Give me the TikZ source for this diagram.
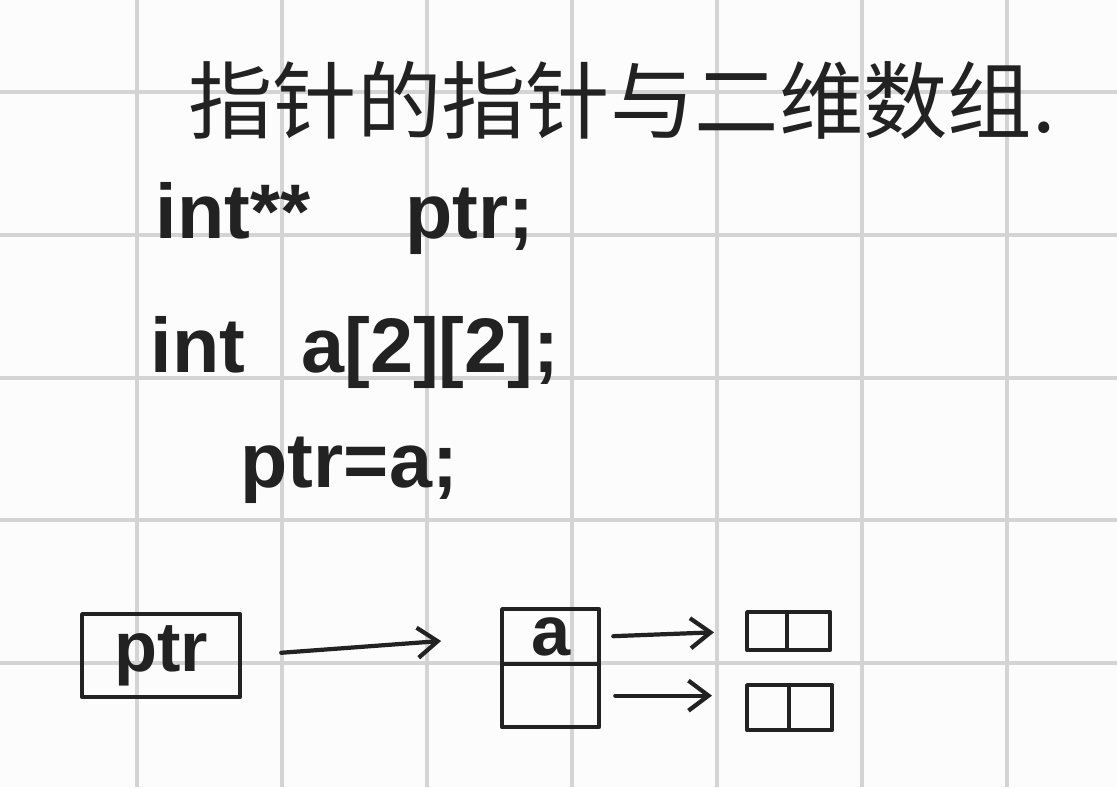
\documentclass[tikz,border=0pt]{standalone}
\usepackage{fontspec}
\setmainfont{Liberation Sans}
\newfontfamily\cjk{Noto Sans CJK SC}
\usetikzlibrary{arrows.meta}
\definecolor{ink}{HTML}{222222}
\definecolor{gridc}{HTML}{D4D4D4}
\definecolor{paper}{HTML}{FCFCFC}
\begin{document}
\begin{tikzpicture}[x=0.01cm,y=-0.01cm,
  inkline/.style={draw=ink, line width=1.2pt, line cap=round, line join=round},
  cell/.style={inkline, rectangle, inner sep=0pt, anchor=north west},
  code/.style={anchor=base west, inner sep=0pt, text=ink, font=\fontsize{22}{26}\selectfont\bfseries},
  gridline/.style={draw=gridc, line width=1pt},
  link/.style={inkline, -{Straight Barb[length=0.2cm,width=0.3cm,line width=1.2pt]}},
]
% paper and grid
\fill[paper] (0,0) rectangle (1117,787);
\useasboundingbox (0,0) rectangle (1117,787);
\foreach \gx in {137,282,427,572,717,862,1007}
  \draw[gridline] (\gx,0) -- (\gx,787);
\foreach \gy in {92,235,378,520,663}
  \draw[gridline] (0,\gy) -- (1117,\gy);

% title
\node[text=ink, inner sep=0pt, font=\cjk\fontsize{24}{28}\selectfont] (title) at (622,100) {指针的指针与二维数组.};

% code lines
\node[code] (line1) at (155,238) {int**\hspace{0.95cm}ptr;};
\node[code] (line2) at (150,372) {int\hspace{0.56cm}a[2][2];};
\node[code] (line3) at (240,487) {ptr=a;};

% diagram
\node[cell, minimum width=1.58cm, minimum height=0.83cm, text=ink, font=\fontsize{20}{24}\selectfont\bfseries] (ptrbox) at (80,612) {ptr};
\node[cell, minimum width=0.97cm, minimum height=0.55cm, text=ink, font=\fontsize{20}{24}\selectfont\bfseries] (arrTop) at (500,607) {a};
\node[cell, minimum width=0.97cm, minimum height=0.63cm] (arrBot) at (500,662) {};
\node[cell, minimum width=0.40cm, minimum height=0.38cm] (rowTopL) at (745,610) {};
\node[cell, minimum width=0.43cm, minimum height=0.38cm] (rowTopR) at (785,610) {};
\node[cell, minimum width=0.42cm, minimum height=0.45cm] (rowBotL) at (745,683) {};
\node[cell, minimum width=0.43cm, minimum height=0.45cm] (rowBotR) at (787,683) {};

\draw[link, shorten <=0.39cm, shorten >=0.59cm] (ptrbox.east) -- (arrTop.west);
\draw[link, shorten <=0.12cm, shorten >=0.31cm] (arrTop.east) -- (rowTopL.west);
\draw[link, shorten <=0.14cm, shorten >=0.33cm] (arrBot.east) -- (arrBot.east -| rowBotL.west);
\end{tikzpicture}
\end{document}
